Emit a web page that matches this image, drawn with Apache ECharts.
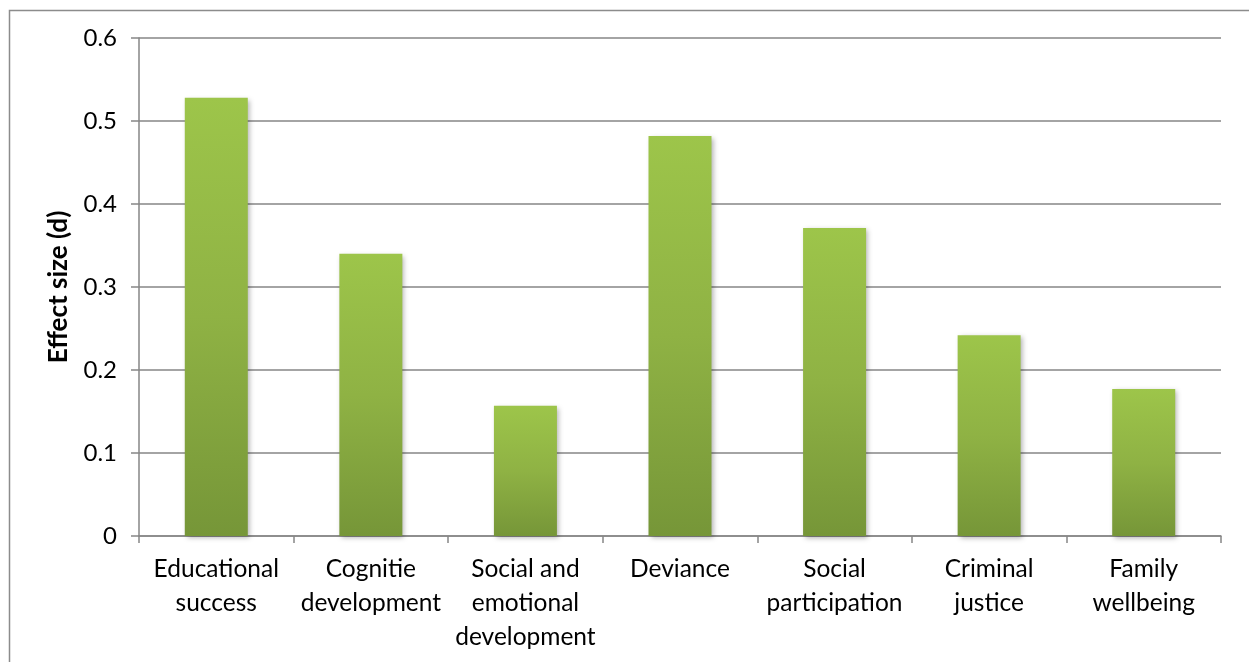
<!DOCTYPE html>
<html>
<head>
<meta charset="utf-8">
<script src="https://cdn.jsdelivr.net/npm/echarts@6/dist/echarts.min.js"></script>
<style>
html,body{margin:0;padding:0;background:#fff;}
#chart{width:1249px;height:662px;}
</style>
</head>
<body>
<div id="chart"></div>
<script>
const categories = ["Educational\nsuccess", "Cognitie\ndevelopment", "Social and\nemotional\ndevelopment", "Deviance", "Social\nparticipation", "Criminal\njustice", "Family\nwellbeing"];
const effectSizes = [0.528, 0.340, 0.157, 0.482, 0.371, 0.242, 0.177];
const yTicks = [0, 0.1, 0.2, 0.3, 0.4, 0.5, 0.6];

const chart = echarts.init(document.getElementById('chart'));
const font = 'Lato, "Open Sans", sans-serif';
chart.setOption({
  animation: false,
  backgroundColor: '#fff',
  graphic: [{
    type: 'rect',
    left: 7, top: 8,
    shape: {width: 1400, height: 800},
    style: {fill: 'none', stroke: '#8c8c8c', lineWidth: 1.5},
    silent: true
  }],
  grid: {left: 139, right: 28, top: 38, bottom: 126},
  xAxis: {
    type: 'category',
    data: categories,
    axisLine: {show: true, lineStyle: {color: '#868686', width: 1.5}},
    axisTick: {show: true, length: 7, lineStyle: {color: '#868686', width: 1.5}},
    axisLabel: {color: '#000', fontFamily: font, fontSize: 24.5, lineHeight: 34, margin: 16, interval: 0}
  },
  yAxis: {
    type: 'value',
    min: 0, max: 0.6, interval: 0.1,
    name: 'Effect size (d)',
    nameLocation: 'middle',
    nameGap: 67,
    nameTextStyle: {color: '#000', fontFamily: font, fontSize: 26, fontWeight: 'bold'},
    axisLine: {show: true, lineStyle: {color: '#868686', width: 1.5}},
    axisTick: {show: true, length: 8, lineStyle: {color: '#868686', width: 1.5}},
    splitLine: {show: true, lineStyle: {color: '#868686', width: 1.5}},
    axisLabel: {
      color: '#000', fontFamily: font, fontSize: 24, margin: 22,
      formatter: v => {
        const t = yTicks.find(x => Math.abs(x - v) < 1e-9);
        return t === 0 ? '0' : String(+v.toFixed(1));
      }
    }
  },
  series: [{
    type: 'bar',
    data: effectSizes,
    barWidth: 63,
    itemStyle: {
      color: new echarts.graphic.LinearGradient(0, 0, 0, 1, [
        {offset: 0, color: '#9dc54a'},
        {offset: 0.5, color: '#8fb244'},
        {offset: 1, color: '#769638'}
      ]),
      shadowColor: 'rgba(0,0,0,0.3)',
      shadowBlur: 5,
      shadowOffsetX: 2,
      shadowOffsetY: 2
    }
  }]
});
</script>
</body>
</html>
